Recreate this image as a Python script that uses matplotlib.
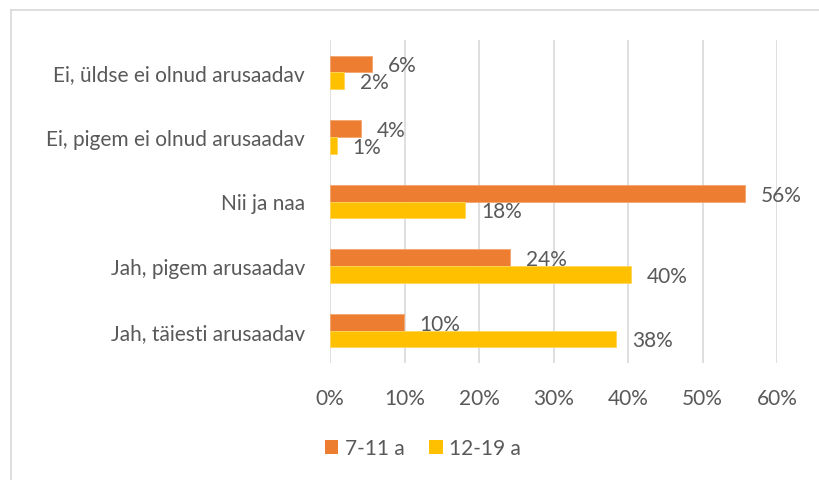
import matplotlib
matplotlib.use("Agg")
import matplotlib.pyplot as plt
from matplotlib.patches import Patch
from matplotlib.lines import Line2D
import numpy as np

categories = ["Jah, täiesti arusaadav", "Jah, pigem arusaadav", "Nii ja naa",
              "Ei, pigem ei olnud arusaadav", "Ei, üldse ei olnud arusaadav"]
series_names = ["7-11 a", "12-19 a"]
vals_7_11 = [9.9, 24.2, 55.7, 4.2, 5.6]
vals_12_19 = [38.4, 40.4, 18.1, 0.9, 1.9]
xticks = [0, 10, 20, 30, 40, 50, 60]

orange = "#ED7D31"
gold = "#FFC000"
txt = "#595959"
grid = "#D9D9D9"

plt.rcParams['font.family'] = ['Lato', 'DejaVu Sans']
fs = 15

fig = plt.figure(figsize=(8.2, 4.81), dpi=100)
ax = fig.add_axes([330/820, 1-364/481, (777-330)/820, (364-41)/481])

y = np.arange(len(categories))
h = 0.257
b1 = ax.barh(y + h/2, vals_7_11, height=h, color=orange, edgecolor="#F4A46E", linewidth=0.6, zorder=3)
b2 = ax.barh(y - h/2, vals_12_19, height=h, color=gold, edgecolor="#FFD659", linewidth=0.6, zorder=3)

for bars, vals in ((b1, vals_7_11), (b2, vals_12_19)):
    for bar, v in zip(bars, vals):
        ax.annotate(f"{v:.0f}%", (bar.get_width(), bar.get_y() + bar.get_height()/2),
                    xytext=(11.5, -1), textcoords="offset points", ha="left", va="center",
                    fontsize=fs, color=txt)

ax.set_xlim(0, 60)
ax.set_ylim(-0.5, len(categories) - 0.5)
ax.set_xticks(xticks)
ax.set_xticklabels([f"{t}%" for t in xticks])
ax.set_yticks(y)
ax.set_yticklabels(categories)
ax.tick_params(axis='x', length=0, pad=18, labelsize=fs, labelcolor=txt)
ax.tick_params(axis='y', length=0, pad=18, labelsize=fs, labelcolor=txt)
for s in ax.spines.values():
    s.set_visible(False)
ax.grid(axis='x', color=grid, linewidth=1.2, zorder=0)
ax.set_axisbelow(True)

# chart frame
fig.add_artist(Line2D([11/820, 11/820], [0, 1-11/481], transform=fig.transFigure, color=grid, linewidth=1.2))
fig.add_artist(Line2D([11/820, 1], [1-11/481, 1-11/481], transform=fig.transFigure, color=grid, linewidth=1.2))

handles = [Patch(facecolor=orange), Patch(facecolor=gold)]
fig.legend(handles, series_names, loc="center", bbox_to_anchor=(423/820, 1-449/481),
           ncol=2, frameon=False, fontsize=fs, labelcolor=txt,
           handlelength=0.65, handleheight=0.65, handletextpad=0.3, columnspacing=1.2)

fig.savefig("out.png", dpi=100)
